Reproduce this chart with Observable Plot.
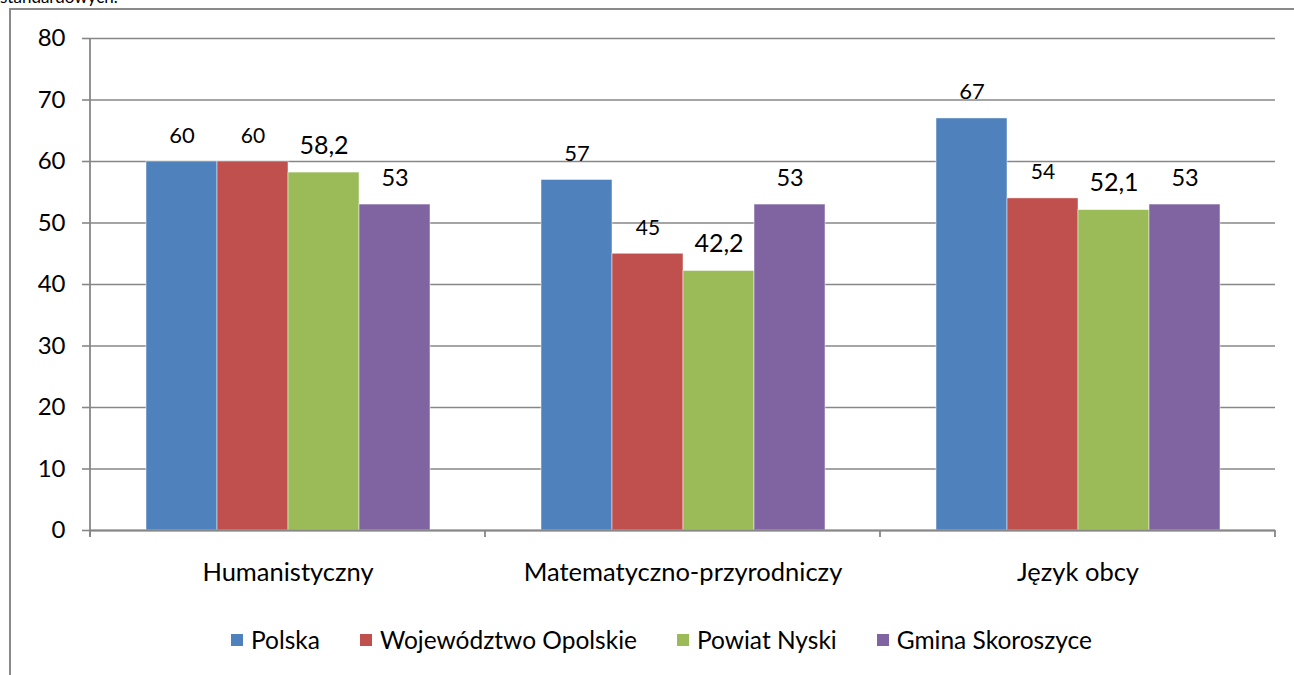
<!DOCTYPE html>
<html>
<head>
<meta charset="utf-8">
<script src="https://cdn.jsdelivr.net/npm/d3@7"></script>
<script src="https://cdn.jsdelivr.net/npm/@observablehq/plot@0.6"></script>
<style>
  html, body { margin: 0; padding: 0; background: #fff; overflow: hidden; }
  body { width: 1294px; height: 675px; position: relative; font-family: Lato, "Open Sans", sans-serif; }
  #frame { position: absolute; left: 9px; top: 8px; width: 1300px; height: 700px;
           border-left: 2px solid #8a8a8a; border-top: 2px solid #8a8a8a; }
  #toptext { position: absolute; left: 0; top: -12px; font-size: 17px; line-height: 17px; color: #000; white-space: nowrap; }
  #chart { position: absolute; left: 0; top: 0; }
  #legend { position: absolute; left: 231px; top: 625px; display: flex; align-items: center;
            font-size: 24.5px; color: #000; white-space: nowrap; }
  .item { display: flex; align-items: center; margin-right: 40px; }
  .sw { width: 12px; height: 12px; margin-right: 8px; }
</style>
</head>
<body>
<div id="toptext">standardowych.</div>
<div id="frame"></div>
<div id="chart"></div>
<div id="legend"></div>
<script>
// ---- data ----
const categories = ["Humanistyczny", "Matematyczno-przyrodniczy", "Język obcy"];
const seriesNames = ["Polska", "Województwo Opolskie", "Powiat Nyski", "Gmina Skoroszyce"];
const polska = [60, 57, 67];
const wojewodztwo = [60, 45, 54];
const powiat = [58.2, 42.2, 52.1];
const gmina = [53, 53, 53];
const yTicks = [0, 10, 20, 30, 40, 50, 60, 70, 80];

// ---- styles ----
const colors = ["#4F81BD", "#C0504D", "#9BBB59", "#8064A2"];
const labelSize = {"Polska": 22, "Województwo Opolskie": 21, "Powiat Nyski": 25, "Gmina Skoroszyce": 23.5};
const gridColor = "#878787";

const seriesValues = [polska, wojewodztwo, powiat, gmina];
const data = [];
categories.forEach((c, i) => {
  seriesNames.forEach((s, j) => data.push({cat: c, series: s, value: seriesValues[j][i]}));
});

const chart = Plot.plot({
  width: 1294,
  height: 600,
  marginLeft: 90,
  marginRight: 19,
  marginTop: 38,
  marginBottom: 70,
  style: {fontFamily: "Lato, 'Open Sans', sans-serif", fontSize: "24px", color: "#000", background: "transparent"},
  fx: {domain: categories, padding: 0, label: null},
  x: {domain: seriesNames, paddingInner: 0, paddingOuter: 0.75, axis: null},
  y: {domain: [0, 80], label: null},
  color: {domain: seriesNames, range: colors},
  marks: [
    Plot.gridY(yTicks, {stroke: gridColor, strokeOpacity: 1, strokeWidth: 1.6}),
    Plot.barY(data, {fx: "cat", x: "series", y: "value", fill: "series",
                     stroke: "#ffffff", strokeWidth: 0.8, strokeOpacity: 0.6, inset: 0}),
    Plot.ruleY([0], {stroke: gridColor, strokeWidth: 2}),
    Plot.text(data, {fx: "cat", x: "series", y: "value",
                     text: d => String(d.value).replace(".", ","),
                     fontSize: d => labelSize[d.series],
                     lineAnchor: "bottom", dy: -19, fill: "#000"}),
    Plot.axisY(yTicks, {tickSize: 8, tickPadding: 17, fontSize: 24, stroke: gridColor, strokeWidth: 1.6, label: null, fill: "#000"}),
    Plot.axisFx({anchor: "bottom", tickSize: 0, tickPadding: 32, fontSize: 25.5, label: null, fill: "#000"})
  ]
});
document.getElementById("chart").appendChild(chart);

// axis line and category boundary ticks through Plot's own scales
const fx = chart.scale("fx");
const y = chart.scale("y");
const svg = d3.select(chart);
const g = svg.append("g").attr("stroke", gridColor).attr("stroke-width", 1.8);
const y0 = y.apply(0), yTop = y.apply(80);
const edges = categories.map(c => fx.apply(c)).concat([fx.apply(categories[categories.length - 1]) + fx.bandwidth]);
g.append("line").attr("x1", edges[0]).attr("x2", edges[0]).attr("y1", yTop).attr("y2", y0 + 7);
edges.forEach(x => {
  g.append("line").attr("x1", x).attr("x2", x).attr("y1", y0).attr("y2", y0 + 7);
});

// legend
const legend = d3.select("#legend");
seriesNames.forEach((s, i) => {
  const it = legend.append("div").attr("class", "item");
  it.append("div").attr("class", "sw").style("background", colors[i]);
  it.append("span").text(s);
});
</script>
</body>
</html>
